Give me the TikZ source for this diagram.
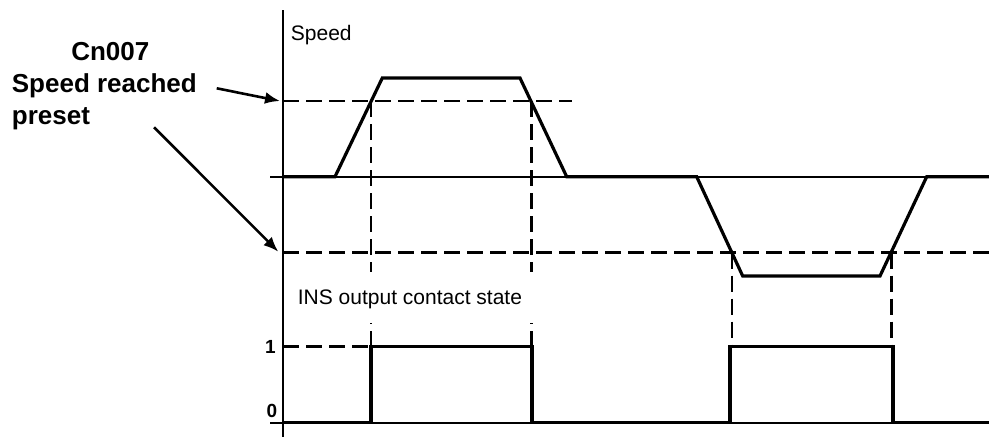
\documentclass[tikz,border=0pt]{standalone}
\usepackage{fontspec}
\setmainfont{Liberation Sans}
\usetikzlibrary{arrows.meta}
\tikzset{
  signal/.style={line width=3.2pt, line join=miter},
  guide/.style={line width=2.8pt, dash pattern=on 16pt off 7pt},
  baseline/.style={line width=1.6pt},
  callout/.style={line width=2.6pt, -{Latex[length=15pt,width=12pt]}},
  lbl/.style={inner sep=0pt, anchor=base west, font=\fontsize{21}{25}\selectfont},
  boldlbl/.style={inner sep=0pt, font=\fontsize{26}{32}\selectfont\bfseries},
  levellbl/.style={inner sep=0pt, anchor=base east, font=\fontsize{19}{23}\selectfont\bfseries},
}
\begin{document}
\begin{tikzpicture}[x=1pt,y=-1pt]
  \useasboundingbox (0,0) rectangle (989,437);
  % levels on the axis
  \coordinate (axtop) at (283,10);
  \coordinate (axbot) at (283,437);
  \coordinate (hi) at (283,101);
  \coordinate (lo) at (283,252.7);
  \draw[baseline] (axtop) -- (axbot);
  \draw[baseline] (270,176.7) -- (989,176.7);
  \draw[baseline] (270,422.7) -- (989,422.7);
  % preset levels and crossings
  \draw[guide] (hi) -- (571.7,101);
  \draw[guide] (lo) -- (989,252.7);
  \draw[guide] (371,101) -- (371,346.7);
  \draw[guide] (531.5,101) -- (531.5,346.7);
  \draw[guide] (732,252.7) -- (732,346.7);
  \draw[guide] (891.5,252.7) -- (891.5,346.7);
  \draw[guide] (283,346.7) -- (371,346.7);
  % speed profile
  \draw[signal] (283,176.7) -- (335,176.7) -- (382.3,78) -- (520,78) -- (566.7,176.7)
    -- (696.7,176.7) -- (742.7,276) -- (880,276) -- (926.7,176.7) -- (989,176.7);
  % contact state
  \draw[signal] (283,422.7) -- (371,422.7) -- (371,346.7) -- (532,346.7) -- (532,422.7)
    -- (730,422.7) -- (730,346.7) -- (893,346.7) -- (893,422.7) -- (989,422.7);
  % labels
  \node[lbl] (speed) at (290.7,40.7) {Speed};
  \fill[white] (289,272) rectangle (540,323);
  \node[lbl] (ins) at (297.7,304) {INS output contact state};
  \node[levellbl] (one) at (276,353.3) {1};
  \node[levellbl] (zero) at (277.5,417) {0};
  \node[boldlbl, anchor=base] (cn) at (110.3,60) {Cn007};
  \node[boldlbl, anchor=base west] (reached) at (11.7,92) {Speed reached};
  \node[boldlbl, anchor=base west] (preset) at (11.7,124) {preset};
  \coordinate (from1) at (216.7,88.3);
  \coordinate (from2) at (154,127.3);
  \draw[callout] (from1) -- (280,101);
  \draw[callout] (from2) -- (278.3,251.7);
\end{tikzpicture}
\end{document}
